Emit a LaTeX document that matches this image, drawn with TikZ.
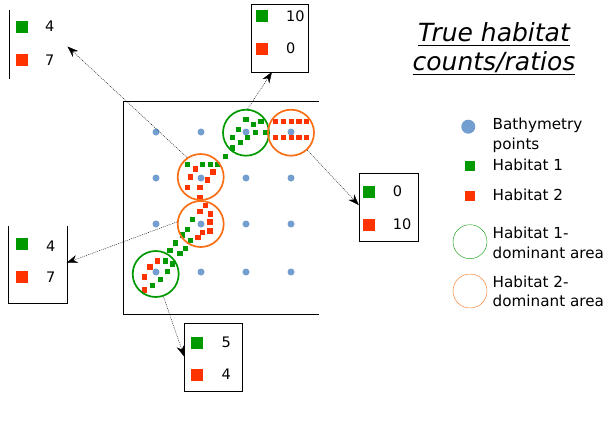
\documentclass[tikz,border=0pt]{standalone}
\usepackage{fontspec}
\setmainfont{DejaVu Sans}
\usetikzlibrary{arrows.meta}

\definecolor{habgreen}{RGB}{0,153,0}
\definecolor{habred}{RGB}{255,51,0}
\definecolor{areaorange}{RGB}{250,110,20}
\definecolor{bathyblue}{RGB}{114,159,207}

\newcommand{\ulbox}[1]{\underline{#1\vphantom{/}}}

\tikzset{
    h1area/.style={circle, draw=habgreen, line width=1.7pt, minimum size=46pt, inner sep=0pt},
    h2area/.style={circle, draw=areaorange, line width=1.7pt, minimum size=46pt, inner sep=0pt},
    countbox/.style={minimum width=58pt, minimum height=68pt, inner sep=0pt},
    gsq/.style={fill=habgreen, minimum size=12pt, inner sep=0pt},
    rsq/.style={fill=habred, minimum size=12pt, inner sep=0pt},
    count/.style={anchor=west, inner sep=0pt, font=\fontsize{14.5}{17}\selectfont},
    legtext/.style={anchor=west, inner sep=0pt, align=left, font=\fontsize{15.2}{19.4}\selectfont},
    conn/.style={thin, dash pattern=on 1pt off 1pt, -{Stealth[length=11pt, width=8pt]}}
}

\begin{document}
\begin{tikzpicture}[x=1pt, y=-1pt]
    \useasboundingbox (0,0) rectangle (610,431);

    % survey area
    \draw[thin] (319,101) -- (123,101) -- (123,314) -- (319,314);

    % bathymetry points
    \foreach \x in {156,201,246,291}
        \foreach \y in {132,178,224,272}
            \fill[bathyblue] (\x,\y) circle (3.5);

    % habitat samples
    \foreach \x/\y in {246/119.3, 261/121.7, 253.3/124.3, 238.3/129.7, 255.7/132.3, 265.3/132.3,
        232.7/137.7, 247.7/137.7, 240.3/142.7, 232.7/148, 225.3/156.3, 187.7/164.3, 202.7/164.3,
        210.3/164.3, 217.7/164.3, 192.3/219.3, 187.7/229.7, 182.7/235, 190.3/240.3, 175.3/243,
        185.3/248.3, 170/250.7, 180/253.3, 165.3/261, 172.7/264, 167.7/271.7, 160.3/279.3, 152.3/285.3}
        \fill[habgreen] (\x-2.6,\y-2.6) rectangle ++(5.2,5.2);
    \foreach \x/\y in {195.3/169, 213/172, 190.3/177, 207.7/180, 187.7/187.7, 200/187.7, 200/198,
        205.3/205.7, 200/211.3, 210.3/214, 210/222, 210/231, 202.7/232.3, 198/237.7,
        157.3/261, 150/267, 144.7/277, 144.7/290}
        \fill[habred] (\x-2.6,\y-2.6) rectangle ++(5.2,5.2);
    \foreach \x in {275.7,283.7,291.3,299,306.7}
        \foreach \y in {121.7,137.7}
            \fill[habred] (\x-2.6,\y-2.6) rectangle ++(5.2,5.2);

    % dominant areas
    \node[h1area] (gt) at (246,132.7) {};
    \node[h2area] (otr) at (291,132.7) {};
    \node[h2area] (om) at (200.7,177) {};
    \node[h2area] (ol) at (200.7,224) {};
    \node[h1area] (gb) at (155.7,274) {};

    % count boxes
    \node[countbox] (tlbox) at (38.3,44.5) {};
    \draw (tlbox.north west) -- (tlbox.south west);
    \node[gsq] (tl-g) at (22,27.3) {};
    \node[rsq] (tl-r) at (22,60.3) {};
    \node[count] at (45,26.5) {4};
    \node[count] at (45,60) {7};

    \node[countbox, draw, minimum width=57pt] (tbox) at (279.2,37.8) {};
    \node[gsq] (t-g) at (262,16) {};
    \node[rsq] (t-r) at (262,49) {};
    \node[count] at (286,16) {10};
    \node[count] at (286,48.3) {0};

    \node[countbox, draw, minimum width=59pt] (rbox) at (388.5,207.2) {};
    \node[gsq] (r-g) at (368.8,192.2) {};
    \node[rsq] (r-r) at (368.8,225.3) {};
    \node[count] at (392.7,191.7) {0};
    \node[count] at (392.7,224) {10};

    \node[countbox, minimum height=77pt] (lmbox) at (37.5,264.8) {};
    \draw (lmbox.north west) -- (lmbox.south west) -- (lmbox.south east) -- (lmbox.north east);
    \node[gsq] (lm-g) at (22,243.8) {};
    \node[rsq] (lm-r) at (22,277.2) {};
    \node[count] at (46,246.7) {4};
    \node[count] at (46,277) {7};

    \node[countbox, draw] (bbox) at (213.3,357.5) {};
    \node[gsq] (b-g) at (197,342.8) {};
    \node[rsq] (b-r) at (197,375) {};
    \node[count] at (221.3,342.5) {5};
    \node[count] at (221.3,374.5) {4};

    % connectors
    \draw[conn] (om.125) -- (tlbox.-4);
    \draw[conn] (gt.86) -- (tbox.-102);
    \draw[conn] (otr) -- (rbox.176);
    \draw[conn] (ol.175) -- (lmbox.4);
    \draw[conn] (gb) -- (bbox.178);

    % title
    \node[align=center, inner sep=0pt, font=\fontsize{25}{29}\selectfont\itshape] (title) at (494,49)
        {\ulbox{True habitat}\\\ulbox{counts/ratios}};

    % legend
    \fill[bathyblue] (468.3,126.7) circle (7);
    \node[legtext] (l-bathy) at (492.5,135.5) {Bathymetry\\points};
    \node[gsq, minimum size=10pt] (l-gsq) at (470,165.5) {};
    \node[legtext] (l-h1) at (492.5,165) {Habitat 1};
    \node[rsq, minimum size=10pt] (l-rsq) at (470,196) {};
    \node[legtext] (l-h2) at (492.5,195) {Habitat 2};
    \node[circle, draw=habgreen, thin, minimum size=34pt] (l-garea) at (470,241.7) {};
    \node[legtext] (l-a1) at (492.5,243) {Habitat 1-\\dominant area};
    \node[circle, draw=areaorange, thin, minimum size=34pt] (l-oarea) at (470,291) {};
    \node[legtext] (l-a2) at (492.5,291.3) {Habitat 2-\\dominant area};
\end{tikzpicture}
\end{document}
